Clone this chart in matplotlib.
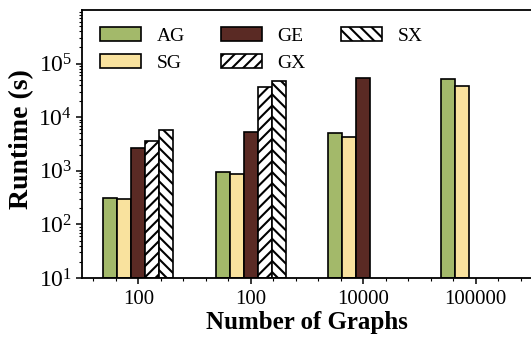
import numpy as np
import matplotlib
matplotlib.use("Agg")
import matplotlib.pyplot as plt
from matplotlib.ticker import LogLocator, MultipleLocator, NullFormatter

plt.rcParams["font.family"] = ["Liberation Serif", "DejaVu Serif"]
plt.rcParams["mathtext.fontset"] = "stix"
plt.rcParams["hatch.linewidth"] = 1.5

# Runtime (s) per method for each dataset size
groups = ["100", "100", "10000", "100000"]
series_names = ["AG", "SG", "GE", "GX", "SX"]
AG = [300, 950, 5100, 52000]
SG = [285, 880, 4200, 38000]
GE = [2700, 5400, 54000, np.nan]
GX = [3550, 36000, np.nan, np.nan]
SX = [5700, 48000, np.nan, np.nan]
values = [AG, SG, GE, GX, SX]

colors = ["#a3b96a", "#f9e29e", "#5a2a24", "white", "white"]
hatches = [None, None, None, "///", "\\\\\\"]

fig = plt.figure(figsize=(5.31, 3.37), dpi=100)
ax = fig.add_axes([82 / 531, 59 / 337, 450 / 531, 268 / 337])

x = np.arange(len(groups))
width = 0.125
for i, (name, vals) in enumerate(zip(series_names, values)):
    ax.bar(x + (i - 2) * width, vals, width, bottom=10, color=colors[i],
           edgecolor="black", linewidth=1.2, hatch=hatches[i], label=name)

ax.set_yscale("log")
ax.set_ylim(10, 1e6)
ax.set_xlim(-0.5, 3.5)
ax.set_xticks(x)
ax.set_xticklabels(groups)
ax.xaxis.set_minor_locator(MultipleLocator(0.2))
ax.yaxis.set_major_locator(LogLocator(base=10, numticks=10))
ax.yaxis.set_minor_locator(LogLocator(base=10, subs=np.arange(2, 10), numticks=20))
ax.yaxis.set_minor_formatter(NullFormatter())
ax.set_yticks([1e1, 1e2, 1e3, 1e4, 1e5])

ax.tick_params(axis="both", which="major", direction="out", length=4, width=1.1)
ax.tick_params(axis="x", which="major", labelsize=15, pad=5)
ax.tick_params(axis="y", which="major", labelsize=17, pad=3)
ax.tick_params(axis="both", which="minor", direction="out", length=2.5, width=0.8)
for s in ax.spines.values():
    s.set_linewidth(1.3)

ax.set_xlabel("Number of Graphs", fontsize=18, fontweight="bold", labelpad=1)
ax.set_ylabel("Runtime (s)", fontsize=20, fontweight="bold", labelpad=3, y=0.52)

ax.legend(ncol=3, loc="upper left", bbox_to_anchor=(0.01, 0.987), frameon=False,
          fontsize=14, handlelength=2.1, handleheight=0.7, handletextpad=0.8,
          columnspacing=1.85, labelspacing=0.5, borderpad=0.2)

fig.savefig("out.png", dpi=100)
